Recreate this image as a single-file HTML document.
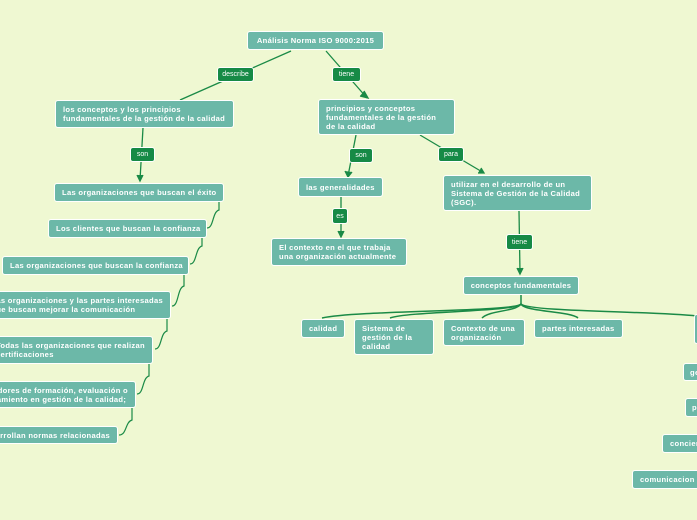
<!DOCTYPE html>
<html><head><meta charset="utf-8"><style>
html,body{margin:0;padding:0;}
#w{width:697px;height:520px;background:#eff8d2;position:relative;overflow:hidden;font-family:"Liberation Sans","DejaVu Sans",sans-serif;}
.n{position:absolute;background:#6cb8a8;border:1px solid #fff;border-radius:3px;color:#fff;font-weight:bold;font-size:7.6px;line-height:9px;letter-spacing:0.3px;padding:0 7px;box-sizing:border-box;display:flex;align-items:center;white-space:nowrap;overflow:hidden;}
.p{position:absolute;background:#168a46;border:1px solid #fff;border-radius:3px;color:#fff;font-size:7px;display:flex;align-items:center;justify-content:center;box-sizing:border-box;}
svg{position:absolute;left:0;top:0}
</style></head><body><div id="w">
<svg width="697" height="520" fill="none" stroke="#1a8a46" stroke-width="1.3">
<path d="M291 51 L180 100"/><path d="M326 51 L367 98"/>
<path d="M360 96 L368 98 L364 91" fill="#1a8a46"/>
<path d="M143 128 L140 180"/><path d="M137 175 L140 181 L143 175" fill="#1a8a46"/>
<path d="M356 135 L348 176"/><path d="M345 171 L348 177 L352 172" fill="#1a8a46"/>
<path d="M420 135 L484 173"/><path d="M478 173 L484 173 L481 168" fill="#1a8a46"/>
<path d="M341 197 L341 236"/><path d="M338 231 L341 237 L344 231" fill="#1a8a46"/>
<path d="M519 211 L520 273"/><path d="M517 268 L520 274 L523 268" fill="#1a8a46"/>
<g stroke-width="1.2">
<path d="M219 202 V210 C212 212 214 228 207 228"/>
<path d="M202 238 V246 C195 248 197 264 190 264"/>
<path d="M184 275 V286 C177 288 179 306 172 306"/>
<path d="M167 319 V331 C160 333 162 349 155 349"/>
<path d="M149 364 V376 C142 378 144 394 137 394"/>
<path d="M132 408 V420 C125 422 127 435 119 435"/>
</g>
<g stroke-width="1.5">
<path d="M521 295 V304 C515 312 360 310 322 318"/>
<path d="M521 304 C515 312 410 311 390 318"/>
<path d="M521 304 C515 312 490 310 482 318"/>
<path d="M521 304 C525 312 570 311 578 318"/>
<path d="M521 304 C530 312 650 311 697 316"/>
</g>
</svg>
<div class="n" style="left:247px;top:31px;width:137px;height:19px;justify-content:center">Análisis Norma ISO 9000:2015</div>
<div class="p" style="left:217px;top:67px;width:37px;height:15px">describe</div>
<div class="p" style="left:332px;top:67px;width:29px;height:15px">tiene</div>
<div class="n" style="left:55px;top:100px;width:179px;height:28px">los conceptos y los principios<br>fundamentales de la gestión de la calidad</div>
<div class="n" style="left:318px;top:99px;width:137px;height:36px">principios y conceptos<br>fundamentales de la gestión<br>de la calidad</div>
<div class="p" style="left:130px;top:147px;width:25px;height:15px">son</div>
<div class="p" style="left:349px;top:148px;width:24px;height:15px">son</div>
<div class="p" style="left:438px;top:147px;width:26px;height:15px">para</div>
<div class="n" style="left:54px;top:183px;width:170px;height:19px">Las organizaciones que buscan el éxito</div>
<div class="n" style="left:298px;top:177px;width:85px;height:20px">las generalidades</div>
<div class="n" style="left:443px;top:175px;width:149px;height:36px">utilizar en el desarrollo de un<br>Sistema de Gestión de la Calidad<br>(SGC).</div>
<div class="p" style="left:332px;top:208px;width:16px;height:16px">es</div>
<div class="n" style="left:271px;top:238px;width:136px;height:28px">El contexto en el que trabaja<br>una organización actualmente</div>
<div class="p" style="left:506px;top:234px;width:27px;height:16px">tiene</div>
<div class="n" style="left:48px;top:219px;width:159px;height:19px">Los clientes que buscan la confianza</div>
<div class="n" style="left:2px;top:256px;width:187px;height:19px">Las organizaciones que buscan la confianza</div>
<div class="n" style="right:526px;top:291px;height:28px">Las organizaciones y las partes interesadas<br>que buscan mejorar la comunicación</div>
<div class="n" style="right:544px;top:336px;height:28px">Todas las organizaciones que realizan<br>certificaciones</div>
<div class="n" style="right:561px;top:381px;height:27px">Proveedores de formación, evaluación o<br>asesoramiento en gestión de la calidad;</div>
<div class="n" style="right:579px;top:426px;height:18px">Las que desarrollan normas relacionadas</div>
<div class="n" style="left:463px;top:276px;width:116px;height:19px;justify-content:center">conceptos fundamentales</div>
<div class="n" style="left:301px;top:319px;width:44px;height:19px">calidad</div>
<div class="n" style="left:354px;top:319px;width:80px;height:36px">Sistema de<br>gestión de la<br>calidad</div>
<div class="n" style="left:443px;top:319px;width:82px;height:27px">Contexto de una<br>organización</div>
<div class="n" style="left:534px;top:319px;width:89px;height:19px">partes interesadas</div>
<div class="n" style="left:694px;top:314px;width:3px;height:30px;padding:0;border-right:none;border-radius:3px 0 0 3px"></div>
<div class="n" style="left:683px;top:363px;width:14px;height:18px;padding:0 0 0 6px;border-right:none;border-radius:3px 0 0 3px">ge</div>
<div class="n" style="left:685px;top:398px;width:12px;height:19px;padding:0 0 0 6px;border-right:none;border-radius:3px 0 0 3px">p</div>
<div class="n" style="left:662px;top:434px;width:35px;height:19px;border-right:none;border-radius:3px 0 0 3px">conciencia</div>
<div class="n" style="left:632px;top:470px;width:65px;height:19px;border-right:none;border-radius:3px 0 0 3px">comunicacion</div>
</div></body></html>
